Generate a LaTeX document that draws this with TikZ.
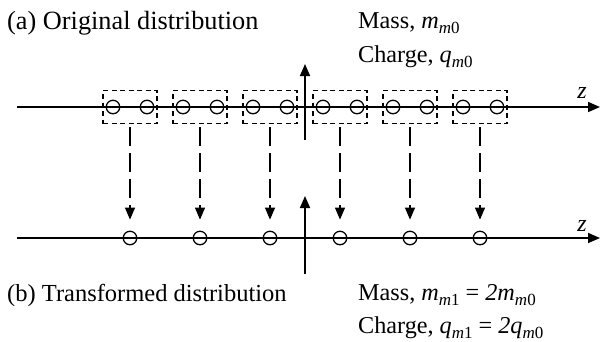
\documentclass[tikz,border=0pt]{standalone}
\usepackage{fontspec}
\setmainfont{Liberation Serif}
\usetikzlibrary{arrows.meta}
\newcommand\msub[1]{\raisebox{-0.24em}{\fontsize{17}{17}\selectfont #1}}
\newcommand\iv[1]{{\itshape #1\/}}
\begin{document}
\begin{tikzpicture}[x=1pt,y=-1pt,
  axis/.style={line width=1.6pt,-{Triangle[length=12pt,width=10pt]}},
  part/.style={circle,draw,line width=1.3pt,minimum size=13.5pt,inner sep=0pt},
  grp/.style={draw,line width=1.2pt,dash pattern=on 5pt off 3.5pt,minimum width=54pt,minimum height=33pt,inner sep=0pt},
  biga/.style={font=\fontsize{26.3}{30}\selectfont,inner sep=0pt,anchor=base west},
  bigb/.style={font=\fontsize{24.5}{30}\selectfont,inner sep=0pt,anchor=base west},
  lab/.style={font=\fontsize{24.2}{26}\selectfont,inner sep=0pt,anchor=base west},
  zlab/.style={font=\fontsize{24}{26}\selectfont\itshape,inner sep=0pt,anchor=base},
  map/.style={line width=1.3pt,dash pattern=on 19pt off 7pt,shorten <=3pt,shorten >=11pt,-{Triangle[length=12pt,width=10pt]}}
]
\useasboundingbox (0,0) rectangle (600,341);
% axes
\coordinate (ha1) at (17,107);
\coordinate (ha2) at (600,107);
\coordinate (hb1) at (17,238);
\coordinate (hb2) at (600,238);
\coordinate (va1) at (305,140);
\coordinate (va2) at (305,64);
\coordinate (vb1) at (305,274);
\coordinate (vb2) at (305,196);
\draw[axis] (ha1) -- (ha2);
\draw[axis] (hb1) -- (hb2);
\draw[axis] (va1) -- (va2);
\draw[axis] (vb1) -- (vb2);
\node[zlab] (za) at (582,98) {z};
\node[zlab] (zb) at (582,231) {z};
% particles
\foreach \k in {1,...,6} {
  \pgfmathsetmacro\c{60+70*\k}
  \node[grp] (g\k) at (\c,107) {};
  \node[part] (tl\k) at (\c-17,107) {};
  \node[part] (tr\k) at (\c+17,107) {};
  \node[part] (b\k) at (\c,238) {};
  \draw[map] (g\k.south) -- (b\k.north);
}
% labels
\node[biga] (ta) at (7,29) {(a) Original distribution};
\node[bigb] (tb) at (7,301) {(b) Transformed distribution};
\node[lab] (ma) at (358,28) {Mass, \iv{m}\msub{\iv{m}0}};
\node[lab] (qa) at (358,62) {Charge, \iv{q}\msub{\iv{m}0}};
\node[lab] (mb) at (358,300) {Mass, \iv{m}\msub{\iv{m}1} = \iv{2m}\msub{\iv{m}0}};
\node[lab] (qb) at (358,333) {Charge, \iv{q}\msub{\iv{m}1} = \iv{2q}\msub{\iv{m}0}};
\end{tikzpicture}
\end{document}
